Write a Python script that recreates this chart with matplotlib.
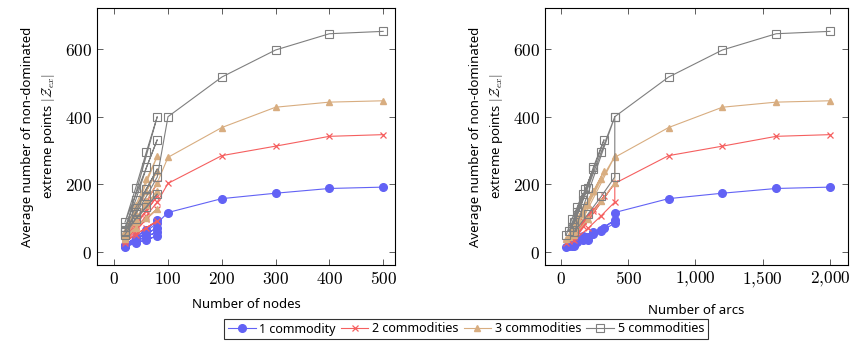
import numpy as np
import matplotlib
matplotlib.use("Agg")
import matplotlib.pyplot as plt
from matplotlib.ticker import FuncFormatter

plt.rcParams['mathtext.fontset'] = 'cm'
plt.rcParams['font.family'] = ['Noto Sans', 'DejaVu Sans']

# instances, in the order of the table rows (lines join consecutive rows)
nodes = [20, 40, 60, 80, 20, 40, 60, 80, 20, 40, 60, 80, 20, 40, 60, 80,
         20, 40, 60, 80, 100, 200, 300, 400, 500]
arcs = [40, 80, 120, 160, 60, 120, 180, 240, 80, 160, 240, 320, 100, 200, 300, 400,
        100, 200, 300, 400, 400, 800, 1200, 1600, 2000]

# average number of non-dominated extreme points
c1 = [15, 27, 36, 48, 17, 31, 46, 60, 19, 36, 54, 72, 22, 44, 66, 95,
      18, 36, 62, 86, 117, 158, 174, 188, 192]
c2 = [28, 52, 72, 92, 33, 62, 98, 128, 38, 78, 122, 165, 44, 95, 150, 204,
      36, 70, 108, 148, 203, 285, 313, 342, 347]
c3 = [38, 72, 100, 128, 46, 88, 138, 182, 54, 112, 180, 240, 62, 138, 215, 283,
      50, 98, 150, 205, 280, 368, 428, 443, 447]
c5 = [52, 98, 132, 172, 62, 118, 186, 245, 74, 154, 250, 332, 88, 190, 297, 400,
      60, 112, 165, 222, 400, 517, 597, 645, 652]

series = [
    ("1 commodity", c1, dict(color="#6262f5", marker="o", ms=5.5, mfc="#6262f5", mec="#6262f5")),
    ("2 commodities", c2, dict(color="#f55f5f", marker="x", ms=4.5, mew=0.9)),
    ("3 commodities", c3, dict(color="#d8ad80", marker="^", ms=5, mfc="#d8ad80", mec="#d8ad80")),
    ("5 commodities", c5, dict(color="#7f7f7f", marker="s", ms=5.5, mfc="none", mec="#7f7f7f", mew=0.8)),
]

fig = plt.figure(figsize=(8.55, 3.48), dpi=100)
ax1 = fig.add_axes([97 / 855, 1 - 265 / 348, 298 / 855, 257 / 348])
ax2 = fig.add_axes([545 / 855, 1 - 265 / 348, 303 / 855, 257 / 348])

ylab = "Average number of non-dominated\nextreme points $|\\mathcal{Z}_{ex}|$"

def tick_fmt(v, pos):
    v = int(round(v))
    if v >= 1000:
        return "$%d{,}%03d$" % (v // 1000, v % 1000)
    return "$%d$" % v

for ax, xs in ((ax1, nodes), (ax2, arcs)):
    for name, ys, st in series:
        ax.plot(xs, ys, lw=0.8, label=name, **st)
    ax.set_ylim(-38, 721)
    ax.set_yticks([0, 200, 400, 600])
    ax.tick_params(direction="in", top=True, right=True, length=4, width=0.6,
                   labelsize=12.5, color="#444444")
    ax.xaxis.set_major_formatter(FuncFormatter(tick_fmt))
    ax.yaxis.set_major_formatter(FuncFormatter(tick_fmt))
    for s in ax.spines.values():
        s.set_linewidth(0.8)
    ax.set_ylabel(ylab, fontsize=9.5, linespacing=1.5, labelpad=6)

ax1.set_xlim(-32, 522)
ax1.set_xticks([0, 100, 200, 300, 400, 500])
ax1.set_xlabel("Number of nodes", fontsize=9.5, labelpad=7)

ax2.set_xlim(-119, 2134)
ax2.set_xticks([0, 500, 1000, 1500, 2000])
ax2.set_xlabel("Number of arcs", fontsize=9.5, labelpad=10)

h, l = ax1.get_legend_handles_labels()
leg = fig.legend(h, l, loc="center", bbox_to_anchor=(466 / 855, 1 - 329 / 348), ncol=4,
                 fontsize=9, frameon=True, fancybox=False, edgecolor="black",
                 handlelength=2.2, handletextpad=0.3, columnspacing=0.4,
                 borderpad=0.3, borderaxespad=0)
leg.get_frame().set_linewidth(0.8)

fig.savefig("out.png", dpi=100)
